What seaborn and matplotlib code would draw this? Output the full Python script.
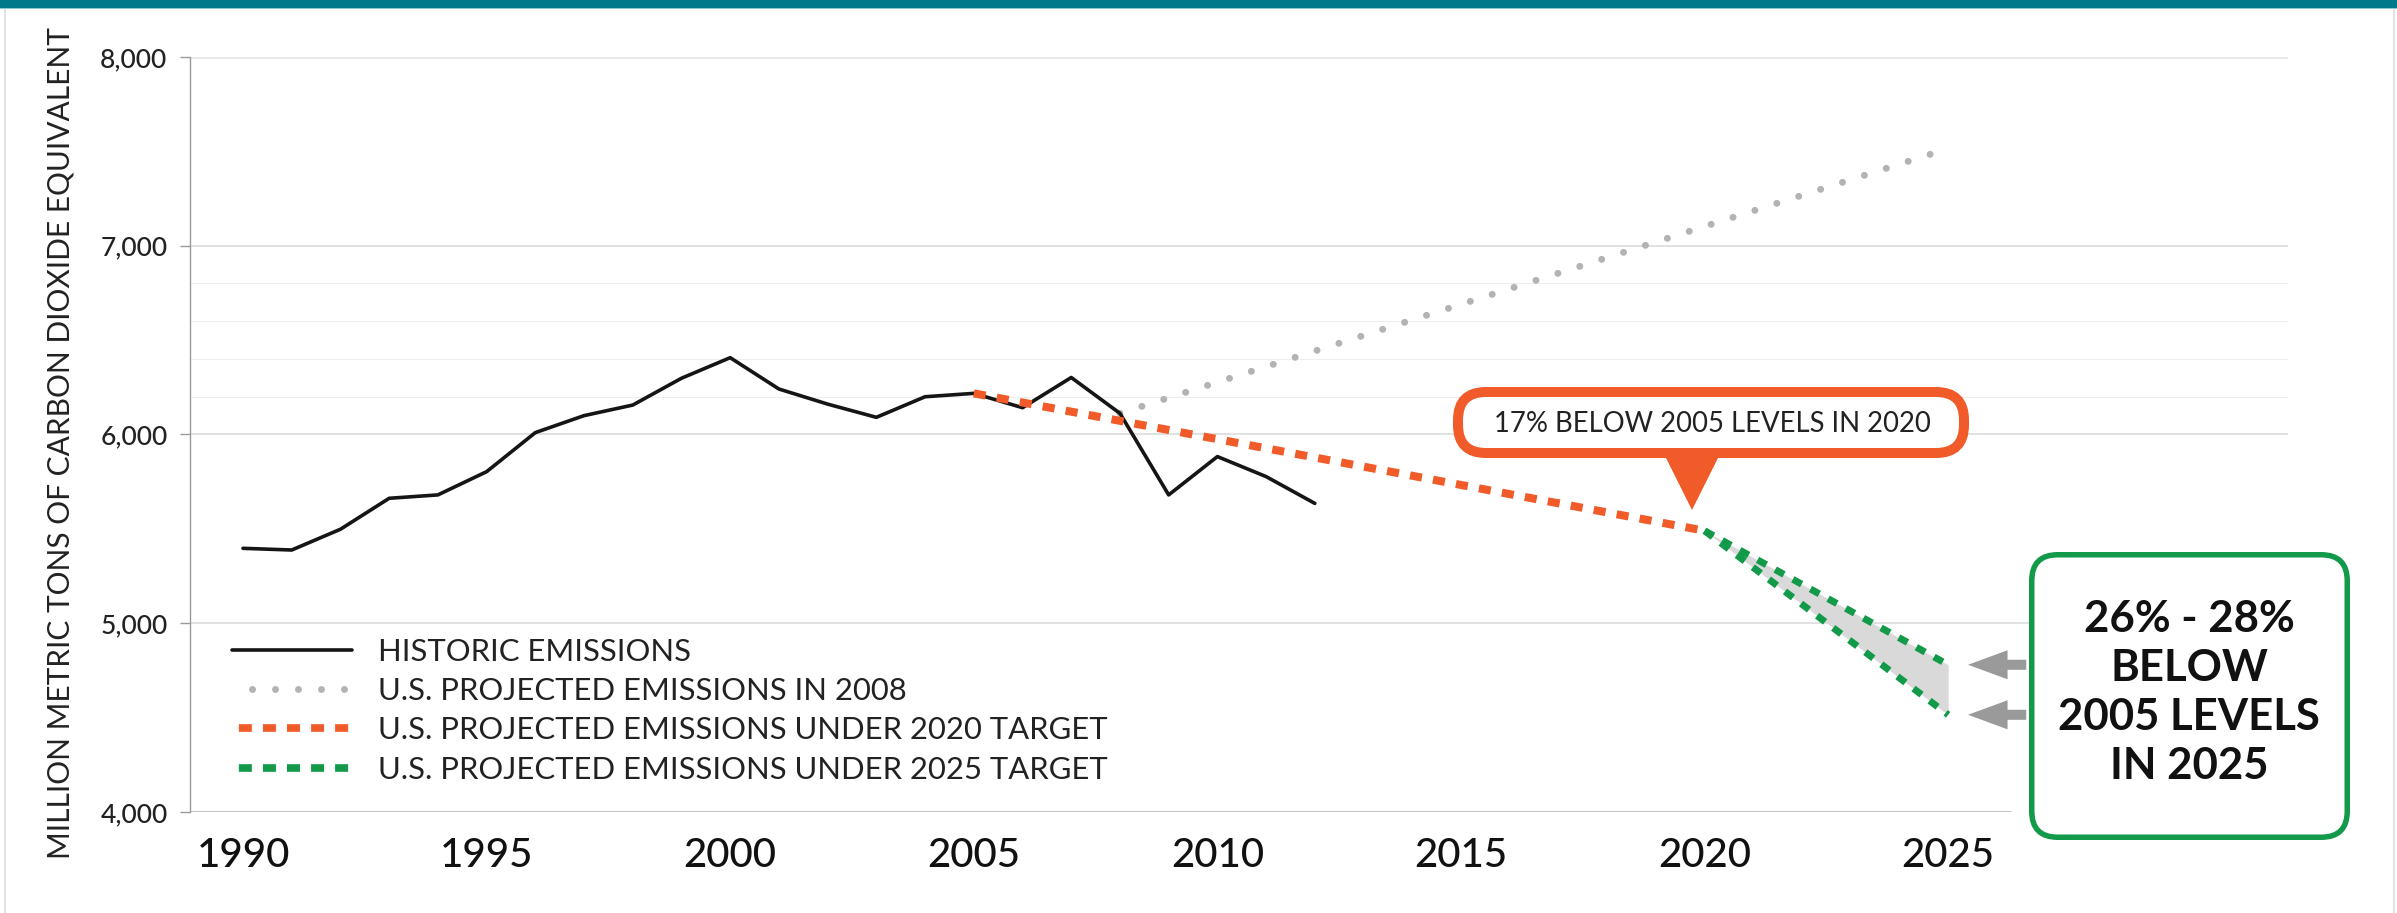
import numpy as np
import pandas as pd
import matplotlib
matplotlib.use("Agg")
import matplotlib.pyplot as plt
import seaborn as sns
from matplotlib.patches import FancyBboxPatch, Polygon, Rectangle, FancyArrowPatch
from matplotlib.lines import Line2D
from matplotlib.transforms import IdentityTransform

# ---------------- data ----------------
hist_years = list(range(1990, 2013))
hist_values = [5397, 5388, 5498, 5662, 5680, 5803, 6010, 6100, 6156, 6298,
               6407, 6241, 6161, 6091, 6200, 6218, 6142, 6302, 6112, 5680,
               5883, 5777, 5635]
proj2008_years = [2008, 2025]
proj2008_values = [6112, 7515]
target2020_years = [2005, 2020]
target2020_values = [6218, 5490]
target2025_years = [2020, 2025]
target2025_high = [5490, 4780]
target2025_low = [5490, 4515]

x_ticks = [1990, 1995, 2000, 2005, 2010, 2015, 2020, 2025]
y_ticks = [4000, 5000, 6000, 7000, 8000]
y_minor_grid = [6200, 6400, 6600, 6800]
y_tick_labels = ["4,000", "5,000", "6,000", "7,000", "8,000"]
legend_labels = ["HISTORIC EMISSIONS",
                 "U.S. PROJECTED EMISSIONS IN 2008",
                 "U.S. PROJECTED EMISSIONS UNDER 2020 TARGET",
                 "U.S. PROJECTED EMISSIONS UNDER 2025 TARGET"]
y_label = "MILLION METRIC TONS OF CARBON DIOXIDE EQUIVALENT"
note_2020 = "17% BELOW 2005 LEVELS IN 2020"
note_2025_lines = ["26% - 28%", "BELOW", "2005 LEVELS", "IN 2025"]

# ---------------- style ----------------
BLACK = "#151515"
GRAY_DOT = "#b3b3b3"
ORANGE = "#f15a29"
GREEN = "#129a4a"
TEAL = "#007a8b"
TXT = "#222222"

W, H, DPI = 2397, 913, 100
sns.set_style("white")
plt.rcParams['font.family'] = ['Lato', 'DejaVu Sans']

fig = plt.figure(figsize=(W / DPI, H / DPI), dpi=DPI)
fig.patch.set_facecolor("white")


def fx(x):
    return x / W


def fy(y):
    return 1 - y / H


ax = fig.add_axes([fx(190), fy(812), (2288 - 190) / W, (812 - 57) / H])
px_per_year = 48.72
ax.set_xlim(1990 - 53 / px_per_year, 1990 + 2045 / px_per_year)
ax.set_ylim(4000, 8000)

# gridlines
for v in y_minor_grid:
    ax.axhline(v, color="#eeeeee", lw=0.8, zorder=0)
for v in [5000, 6000, 7000]:
    ax.axhline(v, color="#d8d8d8", lw=1.1, zorder=0)
ax.axhline(8000, color="#e8e8e8", lw=2.8, zorder=0)
ax.axhline(4000, xmin=0, xmax=(2010 - 190) / (2288 - 190), color="#c4c4c4", lw=2.2, zorder=1)

# series
df_hist = pd.DataFrame({"year": hist_years, "value": hist_values})
sns.lineplot(data=df_hist, x="year", y="value", ax=ax, color=BLACK,
             linewidth=2.6, zorder=5, errorbar=None)
sns.lineplot(x=proj2008_years, y=proj2008_values, ax=ax, color=GRAY_DOT,
             linewidth=5, linestyle=(0, (0.01, 3.3)), dash_capstyle="round",
             zorder=3, errorbar=None)
ax.fill_between(target2025_years, target2025_low, target2025_high,
                color="#d9d9d9", lw=0, zorder=2)
sns.lineplot(x=target2020_years, y=target2020_values, ax=ax, color=ORANGE,
             linewidth=5.8, linestyle=(0, (1.5, 1.4)), zorder=6, errorbar=None)
sns.lineplot(x=target2025_years, y=target2025_high, ax=ax, color=GREEN,
             linewidth=5.0, linestyle=(0, (1.45, 1.45)), zorder=7, errorbar=None)
sns.lineplot(x=target2025_years, y=target2025_low, ax=ax, color=GREEN,
             linewidth=5.0, linestyle=(0, (1.45, 1.45)), zorder=7, errorbar=None)

# axes styling
for s in ["top", "right", "bottom"]:
    ax.spines[s].set_visible(False)
ax.spines["left"].set_color("#9a9a9a")
ax.spines["left"].set_linewidth(1.0)
ax.set_xticks(x_ticks)
ax.set_xticklabels([str(x) for x in x_ticks], fontweight="medium")
ax.set_yticks(y_ticks)
ax.set_yticklabels(y_tick_labels, fontweight="medium")
ax.tick_params(axis="x", length=0, pad=18, labelsize=29, labelcolor="#111111")
ax.tick_params(axis="y", length=7.2, width=1.0, color="#9a9a9a", pad=9,
               labelsize=19, labelcolor=TXT, left=True)
ax.set_xlabel("")
ax.set_ylabel(y_label, fontsize=21.5, color=TXT)
ax.yaxis.set_label_coords((61 - 190) / (2288 - 190), (812 - 443) / (812 - 57))
ax.yaxis.label.set_va("center")
ax.grid(False)

# legend
LFS = 22.3
lfs_px = LFS * DPI / 72
handles = [
    Line2D([], [], color=BLACK, lw=2.6),
    Line2D([], [], color=GRAY_DOT, lw=5, linestyle=(0.43, (0.01, 3.3)), dash_capstyle="round"),
    Line2D([], [], color=ORANGE, lw=5.5, linestyle=(-0.9, (1.7, 1.45))),
    Line2D([], [], color=GREEN, lw=5.5, linestyle=(-0.9, (1.7, 1.45))),
]
leg = ax.legend(handles, legend_labels, loc="center left",
                bbox_to_anchor=(fx(232), fy(710.5)), bbox_transform=fig.transFigure,
                frameon=False, fontsize=LFS, handlelength=120 / lfs_px,
                handletextpad=26 / lfs_px, labelspacing=(48.5 - 1.2 * lfs_px) / lfs_px,
                borderpad=0, borderaxespad=0)
for t in leg.get_texts():
    t.set_color(TXT)

ident = IdentityTransform()


def rbox(x0, y0, x1, y1, lw_px, ec, r, z=10):
    inset = lw_px / 2
    p = FancyBboxPatch((x0 + inset, H - (y1 - inset)), (x1 - x0 - 2 * inset),
                       (y1 - y0 - 2 * inset),
                       boxstyle=f"round,pad=0,rounding_size={r}",
                       transform=ident, fc="white", ec=ec, lw=lw_px * 72 / DPI,
                       zorder=z)
    fig.add_artist(p)


# 2020 callout
rbox(1453, 387, 1969, 458, 10, ORANGE, 28)
tri = Polygon([(1663, H - 452), (1721, H - 452), (1692, H - 510)], closed=True,
              transform=ident, fc=ORANGE, ec="none", zorder=11)
fig.add_artist(tri)
fig.text(fx(1712), fy(432), note_2020, ha="center", va="baseline",
         fontsize=19.8, color=TXT, zorder=12)

# 2025 callout
rbox(2029, 552, 2350, 840, 5.5, GREEN, 26)
for i, line in enumerate(note_2025_lines):
    fig.text(fx(2189), fy(632 + i * 49), line, ha="center", va="baseline",
             fontsize=31.5, fontweight="bold", color="#111111", zorder=12)

# arrows to 2025 range ends
for v in [target2025_high[-1], target2025_low[-1]]:
    xd, yd = ax.transData.transform((2025, v))
    arr = FancyArrowPatch((2029, yd), (xd + 17, yd), transform=ident,
                          arrowstyle="simple,head_length=1.5,head_width=1.1,tail_width=0.38",
                          mutation_scale=19, color="#9a9a9a", lw=0, zorder=9)
    fig.add_artist(arr)

# frame decorations
fig.add_artist(Rectangle((0, fy(8)), 1, 8 / H, transform=fig.transFigure,
                         color=TEAL, lw=0, zorder=20))
fig.add_artist(Rectangle((0, fy(9.5)), 1, 1.5 / H, transform=fig.transFigure,
                         color="#8cc6cf", lw=0, zorder=20))
fig.add_artist(Rectangle((fx(4), 0), 1.5 / W, fy(9.5), transform=fig.transFigure,
                         color="#e2e2e2", lw=0, zorder=20))
fig.add_artist(Rectangle((fx(2393), 0), 1.5 / W, fy(9.5), transform=fig.transFigure,
                         color="#e2e2e2", lw=0, zorder=20))

fig.savefig("out.png", dpi=DPI)
